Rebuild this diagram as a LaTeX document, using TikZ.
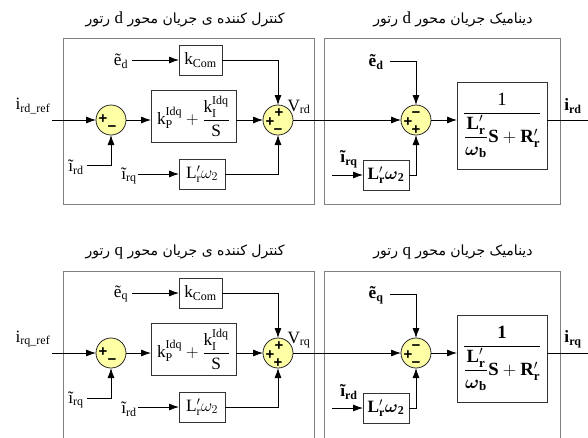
\documentclass[tikz,border=0pt]{standalone}
\usepackage{amsmath}
\usepackage{fontspec}
\setmainfont{Liberation Serif}
\newfontfamily\fafont[Script=Arabic]{DejaVu Sans}
\newfontfamily\signfont{Liberation Sans}
\TeXXeTstate=1
\usetikzlibrary{arrows.meta}
\definecolor{sumfill}{RGB}{255,255,165}
\newcommand{\pl}{{\signfont\bfseries +}}
\newcommand{\mn}{{\signfont\bfseries −}}
% #1 suffix, #2 axis, #3 cross axis, #4 sum2 bottom sign, #5 sum3 bottom sign, #6 yshift, #7 numerator
\newcommand{\rotorpanel}[7]{%
\begin{scope}[yshift=#6]
  % titles
  \node[title] (tl#1) at (185,19) {\beginR کنترل کننده ی جریان محور {\rmfamily\fontsize{17}{18}\selectfont #2} رتور\endR};
  \node[title] (tr#1) at (453,19) {\beginR دینامیک جریان محور {\rmfamily\fontsize{17}{18}\selectfont #2} رتور\endR};
  % left controller
  \node[lbl] (ref#1) at (33,106) {i\textsubscript{r#2\_ref}};
  \coordinate (in#1) at (52,120);
  \node[sumc] (sa#1) at (111,120) {};
  \node[sgn] at (103,119.5) {\pl};
  \node[sgn] at (112,128.5) {\mn};
  \node[blk, minimum width=85pt, minimum height=52pt] (pi#1) at (193.5,116)
     {$\mathrm{k}_{\mathrm P}^{\mathrm{Idq}}+\dfrac{\mathrm{k}_{\mathrm I}^{\mathrm{Idq}}}{\mathrm S}$};
  \node[sumc] (sb#1) at (278,120) {};
  \node[sgn, text height=6pt, text depth=0pt] at (279,114) {\pl};
  \node[sgn, text height=6pt, text depth=0pt] at (270,123) {\pl};
  \node[sgn, text height=6pt, text depth=0pt] at (278,131) {#4};
  \node[blk, minimum width=43pt, minimum height=30pt] (kc#1) at (200.5,60) {k\textsubscript{Com}};
  \node[blk, minimum width=46pt, minimum height=30pt] (lw#1) at (202,174) {$\mathrm{L}'_{\mathrm r}\omega_2$};
  \node[lbl] (ed#1) at (121,61) {ẽ\textsubscript{#2}};
  \node[lbl] (ira#1) at (76,167) {ĩ\textsubscript{r#2}};
  \node[lbl] (irc#1) at (129,176) {ĩ\textsubscript{r#3}};
  \node[lbl] (v#1) at (299,107) {V\textsubscript{r#2}};
  \coordinate (eds#1) at (132,60);
  \coordinate (iras#1) at (87,165);
  \coordinate (ircs#1) at (138,174);
  \draw[arr] (in#1) -- (sa#1);
  \draw[arr] (sa#1.east) -- (sa#1.east -| pi#1.west);
  \draw[arr] (pi#1.east |- sb#1) -- (sb#1);
  \draw[arr] (eds#1) -- (kc#1.west);
  \draw[arr] (kc#1.east) -| (sb#1.north);
  \draw[arr] (iras#1) -| (sa#1.south);
  \draw[arr] (ircs#1) -- (lw#1.west);
  \draw[arr] (lw#1.east) -| (sb#1.south);
  % right dynamics
  \node[sumc] (sc#1) at (416,120) {};
  \node[sgn, text height=6pt, text depth=0pt] at (416,114) {\mn};
  \node[sgn, text height=6pt, text depth=0pt] at (408,123) {\pl};
  \node[sgn, text height=6pt, text depth=0pt] at (416,131) {#5};
  \draw[arr] (sb#1.east) -- (sc#1.west);
  \node[blk, minimum width=90pt, minimum height=87pt] (tf#1) at (502,125.5)
     {\scalebox{1.08}{$\dfrac{#7}{\dfrac{\mathbf{L}'_{\mathbf r}}{\boldsymbol{\omega}_{\mathbf b}}\mathbf{S}+\mathbf{R}'_{\mathbf r}}$}};
  \draw[arr] (sc#1.east) -- (sc#1.east -| tf#1.west);
  \coordinate (out#1) at (588,120);
  \draw[conn] (sc#1 -| tf#1.east) -- (out#1);
  \node[lbl, font=\LARGE\bfseries] (o#1) at (573,106) {i\textsubscript{r#2}};
  \node[lbl, font=\LARGE\bfseries] (edb#1) at (376,62) {ẽ\textsubscript{#2}};
  \coordinate (edbs#1) at (390,61);
  \draw[arr] (edbs#1) -| (sc#1.north);
  \node[blk, minimum width=46pt, minimum height=30pt] (lwb#1) at (386,175)
     {$\mathbf{L}'_{\mathbf r}\boldsymbol{\omega}_{\mathbf 2}$};
  \node[lbl, font=\LARGE\bfseries] (ircb#1) at (349,159) {ĩ\textsubscript{r#3}};
  \coordinate (ircbs#1) at (332,175);
  \draw[arr] (ircbs#1) -- (lwb#1.west);
  \draw[arr] (lwb#1.east) -| (sc#1.south);
\end{scope}}
\begin{document}
\begin{tikzpicture}[x=1pt,y=-1pt,
  every node/.style={font=\LARGE, inner sep=0pt, outer sep=0pt},
  title/.style={font=\fafont\fontsize{14}{16}\selectfont},
  lbl/.style={},
  panel/.style={draw=black!50, line width=0.9pt},
  blk/.style={draw=black!80, line width=0.8pt, fill=white},
  sumc/.style={circle, draw=black!85, fill=sumfill, line width=0.8pt, minimum size=30pt},
  sgn/.style={font=\fontsize{15}{15}\selectfont},
  conn/.style={draw=black, line width=0.8pt},
  arr/.style={conn, -{Latex[length=10pt,width=7pt]}}]
\useasboundingbox (0,0) rectangle (588,437);
\draw[panel] (63,38) rectangle (314,204);
\draw[panel] (324,38) rectangle (560,204);
\draw[panel] (63,440) -- (63,271) -- (314,271) -- (314,440);
\draw[panel] (324,440) -- (324,271) -- (560,271) -- (560,440);
\rotorpanel{a}{d}{q}{\mn}{\pl}{0pt}{\mathrm{1}}
\rotorpanel{b}{q}{d}{\pl}{\mn}{-233pt}{\mathbf{1}}
\end{tikzpicture}
\end{document}
